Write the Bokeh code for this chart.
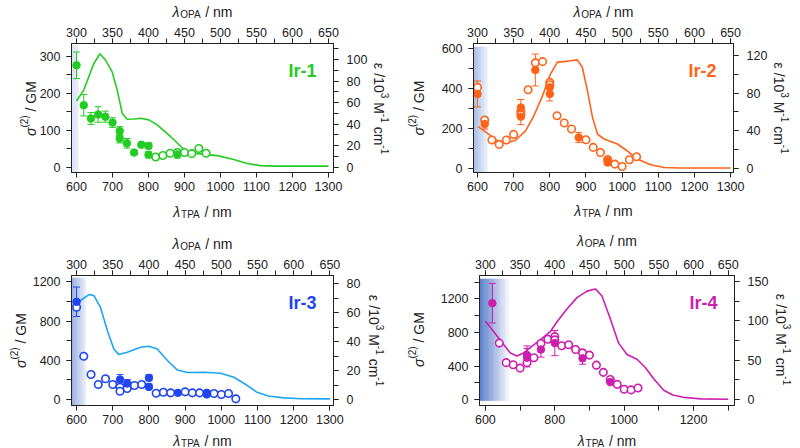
import numpy as np
from bokeh.plotting import figure
from bokeh.models import Range1d, LinearAxis, SingleIntervalTicker, Label, GridBox
from bokeh.layouts import column, row
from bokeh.embed import file_html
from bokeh.resources import INLINE

# ---------------- data ----------------
# Ir-1
ir1_line_x = [600, 620, 648, 665, 681, 699, 713, 727, 741, 760, 778, 801, 824, 861, 894, 917, 944, 991, 1037, 1074, 1111, 1150, 1200, 1300]
ir1_line_y = [61.5, 71.7, 96.3, 105.5, 99.4, 88.6, 71.7, 50, 44.6, 44.8, 45.5, 44, 39.4, 28.6, 17.9, 13.3, 12.4, 10.8, 7.1, 3.4, 1.5, 1.0, 1.0, 1.0]
ir1_fill_x = [600, 620, 640, 660, 680, 700, 720, 720, 740, 760, 780, 800, 800, 880]
ir1_fill_y = [276, 168, 132, 143, 137, 121, 98, 78, 65, 40, 61, 58, 34, 35]
ir1_fill_err = [36, 29, 16, 21, 15, 13, 12, 12, 13, 4, 5, 8, 8, 10]
ir1_open_x = [820, 840, 860, 880, 900, 920, 940, 960]
ir1_open_y = [28, 32, 38, 40, 40, 37, 51, 38]

# Ir-2
ir2_line_x = [602, 628, 655, 678, 706, 733, 756, 780, 802, 821, 840, 858, 876, 890, 904, 918, 932, 950, 987, 1014, 1042, 1079, 1116, 1160, 1300]
ir2_line_y = [44.4, 37.3, 29.5, 26.6, 30.2, 40, 56, 77.4, 100.5, 113, 113.5, 114.5, 115.4, 107.6, 82.7, 54.3, 36.6, 31.3, 26, 18.8, 10, 4, 1, 0.5, 0.5]
ir2_fill_x = [600, 620, 720, 720, 760, 800, 800, 880, 960, 960]
ir2_fill_y = [374, 223, 306, 260, 494, 407, 374, 156, 39, 30]
ir2_fill_err = [65, 25, 40, 40, 80, 35, 35, 25, 12, 12]
ir2_open_x = [600, 620, 640, 660, 680, 700, 720, 720, 740, 760, 780, 800, 800, 820, 840, 860, 900, 920, 940, 960, 980, 1000, 1020, 1040]
ir2_open_y = [407, 243, 143, 121, 143, 171, 285, 270, 395, 530, 536, 432, 420, 265, 228, 198, 144, 106, 80, 45, 22, 10, 44, 59]

# Ir-3
ir3_line_x = [600, 611, 634, 648, 666, 685, 703, 717, 740, 777, 800, 823, 851, 878, 906, 952, 998, 1035, 1072, 1099, 1130, 1173, 1220, 1300]
ir3_line_y = [65, 68.5, 72.6, 71.9, 63.8, 47.7, 35, 31.1, 32.7, 36.2, 36.9, 35, 27, 20.5, 18.7, 18.9, 18.2, 15.4, 9.7, 5, 2.5, 1.2, 0.6, 0.5]
ir3_fill_x = [600, 720, 740, 800, 800, 880, 960, 960]
ir3_fill_y = [996, 204, 163, 221, 129, 68, 68, 52]
ir3_fill_err = [150, 50, 40, 30, 30, 10, 10, 10]
ir3_open_x = [600, 620, 640, 660, 680, 700, 720, 720, 740, 760, 780, 820, 840, 860, 900, 920, 940, 980, 1000, 1020, 1040]
ir3_open_y = [941, 441, 255, 153, 211, 153, 125, 85, 112, 143, 153, 64, 74, 68, 78, 68, 68, 61, 51, 61, 7]

# Ir-4
ir4_line_x = [600, 624, 653, 672, 691, 710, 730, 758, 787, 806, 835, 864, 893, 917, 936, 960, 984, 1008, 1037, 1061, 1085, 1114, 1140, 1171, 1220, 1300]
ir4_line_y = [99.4, 86.2, 69.7, 59.3, 55.3, 59.3, 66.4, 75.9, 86.2, 98.5, 115, 129.4, 137.7, 140.5, 131.5, 102.6, 71.7, 57.4, 51.2, 40.8, 26.5, 12, 6, 3, 1, 0.5]
ir4_fill_x = [620, 720, 720, 760, 800, 880, 960]
ir4_fill_y = [1150, 531, 500, 597, 674, 492, 209]
ir4_fill_err = [236, 110, 110, 90, 150, 70, 20]
ir4_open_x = [640, 660, 680, 700, 720, 740, 760, 780, 800, 800, 820, 840, 860, 880, 900, 920, 940, 960, 980, 1000, 1020, 1040]
ir4_open_y = [674, 441, 415, 376, 441, 500, 670, 720, 751, 713, 643, 655, 597, 558, 531, 411, 325, 240, 182, 124, 116, 139]

names = ["Ir-1", "Ir-2", "Ir-3", "Ir-4"]

FONT = "Liberation Sans"
INK = "#222222"
PW, PH = 400, 224          # size of each panel canvas
TOTAL_W, TOTAL_H = 800, 448

CW = {' ': .278, '/': .278, 'n': .556, 'm': .833, 'c': .5, 'M': .833, 'G': .778,
      'T': .611, 'P': .667, 'A': .667, 'O': .778, '(': .333, ')': .333, '-': .333,
      'ε': .47, 'σ': .6, 'λ': .55}


def tw(s, size):
    return sum(CW.get(ch, .556) for ch in s) * size


# transparent overlay figure that carries the composite axis titles
ov = figure(width=TOTAL_W, height=TOTAL_H, x_range=Range1d(0, TOTAL_W), y_range=Range1d(0, TOTAL_H),
            x_axis_type=None, y_axis_type=None, output_backend="svg", toolbar_location=None,
            min_border=0)
ov.grid.visible = False
ov.outline_line_color = None
ov.background_fill_alpha = 0
ov.border_fill_alpha = 0


def comp_label(pieces, cx, cy_page, angle):
    """cx / cy_page: baseline centre in page pixels (y downward)."""
    cy = TOTAL_H - cy_page
    total = sum(tw(t, sz) for t, sz, st, sh in pieces)
    along = -total / 2
    for t, sz, st, sh in pieces:
        lead = len(t) - len(t.lstrip(' '))
        a = along + tw(' ' * lead, sz)
        if angle == 0:
            ox, oy = a, sh
        elif angle > 0:
            ox, oy = -sh, a
        else:
            ox, oy = sh, -a
        ov.add_layout(Label(x=cx + ox, y=cy + oy, text=t.strip(' '),
                            angle=angle, text_font=FONT, text_font_size=f"{sz}px",
                            text_font_style=st, text_color=INK, text_align="left",
                            text_baseline="alphabetic"))
        along += tw(t, sz)


def style_axis(ax, interval, minor, standoff):
    ax.ticker = SingleIntervalTicker(interval=interval, num_minor_ticks=max(minor, 0))
    ax.major_tick_out = 5
    ax.major_tick_in = 0
    ax.minor_tick_out = 5
    ax.minor_tick_in = 0
    ax.axis_line_color = INK
    ax.major_tick_line_color = INK
    ax.minor_tick_line_color = INK if minor > 1 else None
    ax.major_label_text_font = FONT
    ax.major_label_text_font_size = "12.5px"
    ax.major_label_text_color = INK
    ax.major_label_standoff = standoff
    ax.axis_label = None


def hexrgb(h):
    h = h.lstrip('#')
    return np.array([int(h[i:i + 2], 16) for i in (0, 2, 4)], dtype=float)


def make_panel(r, c, name, color, lcolor, lx, ly, fx, fy, ferr, ox, oy, xr, yl, yr,
               lint, rint, bint, bminor, borders, ldx, rdx, bdy, tdy,
               shade_end, shade_top, shade_bot, c0, c1):
    bl, br, bt, bb = borders
    p = figure(width=PW, height=PH, x_range=Range1d(*xr), y_range=Range1d(*yl),
               output_backend="svg", toolbar_location=None,
               min_border_left=bl, min_border_right=br, min_border_top=bt, min_border_bottom=bb)
    p.extra_x_ranges = {"opa": Range1d(xr[0] / 2, xr[1] / 2)}
    p.extra_y_ranges = {"eps": Range1d(*yr)}
    p.grid.visible = False
    p.outline_line_color = INK
    p.background_fill_color = "white"
    p.border_fill_color = "white"

    style_axis(p.xaxis[0], bint, bminor, 4)
    style_axis(p.yaxis[0], lint, 2, 6)
    ra = LinearAxis(y_range_name="eps")
    style_axis(ra, rint, 2, 8)
    p.add_layout(ra, "right")
    ta = LinearAxis(x_range_name="opa")
    style_axis(ta, 50, 2, 2)
    p.add_layout(ta, "above")

    # shaded excitation region (gradient from strips)
    n = 24
    edges = np.linspace(xr[0], shade_end, n + 1)
    step = edges[1] - edges[0]
    a0, a1 = hexrgb(c0), hexrgb(c1)
    cols = []
    for i in range(n):
        f = i / (n - 1)
        cc = a0 + (a1 - a0) * f
        cols.append('#%02x%02x%02x' % tuple(int(round(v)) for v in cc))
    p.quad(left=edges[:-1], right=edges[1:] + 0.4 * step, bottom=shade_bot, top=shade_top,
           fill_color=cols, line_color=None)

    # absorption line (right axis)
    p.line(lx, ly, y_range_name="eps", line_color=lcolor, line_width=1.6)

    # error bars
    fx_a = np.array(fx, dtype=float)
    fy_a = np.array(fy, dtype=float)
    fe_a = np.array(ferr, dtype=float)
    p.segment(x0=fx_a, y0=fy_a - fe_a, x1=fx_a, y1=fy_a + fe_a, line_color=color, line_width=1)
    p.scatter(x=fx_a, y=fy_a + fe_a, marker="dash", size=7, line_color=color, line_width=1)
    p.scatter(x=fx_a, y=fy_a - fe_a, marker="dash", size=7, line_color=color, line_width=1)

    # points
    p.scatter(x=ox, y=oy, marker="circle", size=7.5, fill_color="white", line_color=color, line_width=1.6)
    p.scatter(x=fx, y=fy, marker="circle", size=7.5, fill_color=color, line_color=color, line_width=1)

    # panel name
    p.add_layout(Label(x=xr[1], y=yl[1], x_offset=-17, y_offset=-27, text=name,
                       text_font=FONT, text_font_size="18px", text_font_style="bold",
                       text_color=color, text_align="right", text_baseline="alphabetic"))

    # frame geometry in page pixels
    L = c * PW + bl
    R = c * PW + PW - br
    T = r * PH + bt
    B = r * PH + PH - bb
    xm = (L + R) / 2
    ym = (T + B) / 2
    comp_label([("λ", 14, "italic", 0), ("TPA", 10, "normal", -3), (" / nm", 14, "normal", 0)],
               xm, B + bdy, 0)
    comp_label([("λ", 14, "italic", 0), ("OPA", 10, "normal", -3), (" / nm", 14, "normal", 0)],
               xm, T - tdy, 0)
    comp_label([("σ", 14, "italic", 0), ("(2)", 10, "normal", 6), (" / GM", 14, "normal", 0)],
               L - ldx, ym, np.pi / 2)
    comp_label([("ε", 14, "normal", 0), (" /10", 14, "normal", 0), ("3", 10, "normal", 6),
                (" M", 14, "normal", 0), ("-1", 10, "normal", 6), (" cm", 14, "normal", 0),
                ("-1", 10, "normal", 6)],
               R + rdx, ym, -np.pi / 2)
    return p


p1 = make_panel(0, 0, names[0], "#22cc22", "#22cc22", ir1_line_x, ir1_line_y, ir1_fill_x, ir1_fill_y, ir1_fill_err,
                ir1_open_x, ir1_open_y, (586, 1314), (-14, 335), (-4.9, 115),
                100, 20, 100, 0, (71, 67, 43, 51), 41, 45, 38, 32,
                605, 330, -14, "#d3ddf1", "#e3e9f6")
p2 = make_panel(0, 1, names[1], "#ff6319", "#ff6319", ir2_line_x, ir2_line_y, ir2_fill_x, ir2_fill_y, ir2_fill_err,
                ir2_open_x, ir2_open_y, (589, 1308), (-20, 627), (-4.3, 132.8),
                200, 40, 100, 0, (73, 67, 43, 52), 55, 45, 38, 32,
                629, 611, -20, "#9fb5e2", "#eef2fa")
p3 = make_panel(1, 0, names[2], "#1f45f0", "#1ea5f5", ir3_line_x, ir3_line_y, ir3_fill_x, ir3_fill_y, ir3_fill_err,
                ir3_open_x, ir3_open_y, (586, 1310), (-61, 1264), (-4.1, 85.8),
                400, 20, 100, 0, (71, 67, 51, 43), 51, 40, 35, 32,
                625, 1240, -61, "#8ea7dc", "#e6ecf7")
p4 = make_panel(1, 1, names[3], "#cc1fae", "#cc1fae", ir4_line_x, ir4_line_y, ir4_fill_x, ir4_fill_y, ir4_fill_err,
                ir4_open_x, ir4_open_y, (583, 1318), (-70, 1480), (-7.4, 157.5),
                400, 50, 200, 2, (79, 66, 48, 42), 61, 46, 34, 32,
                667, 1440, -12, "#5a7fca", "#f2f5fb")

panels = column(row(p1, p2), row(p3, p4))
layout = GridBox(children=[(panels, 0, 0), (column(ov), 0, 0)])
open("out.html", "w").write(file_html(layout, INLINE))
